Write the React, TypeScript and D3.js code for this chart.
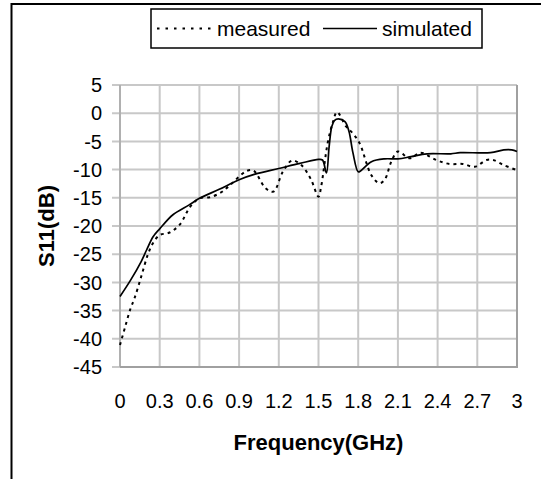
import { useEffect, useRef } from "react"
import * as d3 from "d3"

// frequency (GHz) / S11 (dB)
const simFreq = [0, 0.08, 0.16, 0.2, 0.25, 0.3, 0.4, 0.52, 0.6, 0.75, 0.9, 1.02, 1.2, 1.36, 1.5, 1.53, 1.56, 1.58, 1.6, 1.62, 1.65, 1.7, 1.73, 1.76, 1.8, 1.82, 1.9, 2.0, 2.1, 2.2, 2.32, 2.5, 2.57, 2.8, 2.9, 2.96, 3.0]
const simS11 = [-32.5, -29.6, -26.3, -24.3, -21.9, -20.5, -18.0, -16.3, -15.1, -13.5, -11.8, -10.8, -9.8, -8.9, -8.2, -8.3, -10.6, -6.0, -2.4, -1.3, -1.0, -1.5, -3.2, -7.0, -10.4, -10.2, -8.6, -8.1, -8.1, -7.7, -7.2, -7.2, -7.0, -7.0, -6.5, -6.5, -6.8]

const measFreq = [0, 0.04, 0.08, 0.11, 0.16, 0.21, 0.25, 0.3, 0.37, 0.45, 0.53, 0.6, 0.68, 0.76, 0.82, 0.96, 1.01, 1.1, 1.16, 1.23, 1.3, 1.37, 1.44, 1.5, 1.52, 1.57, 1.61, 1.64, 1.71, 1.76, 1.81, 1.9, 1.96, 2.0, 2.05, 2.1, 2.19, 2.27, 2.39, 2.49, 2.59, 2.68, 2.77, 2.82, 2.9, 3.0]
const measS11 = [-41.1, -37.8, -34.6, -32.8, -29.0, -25.1, -23.0, -21.6, -21.2, -19.8, -16.6, -15.1, -14.9, -14.1, -13.0, -10.2, -10.2, -13.3, -13.9, -10.4, -8.4, -9.2, -11.6, -14.8, -13.0, -5.2, -1.5, 0.2, -2.4, -3.6, -5.3, -11.0, -12.4, -11.8, -8.6, -6.8, -8.0, -7.0, -8.3, -9.0, -9.0, -9.5, -8.3, -8.3, -9.2, -10.1]

const xTicks = [0, 0.3, 0.6, 0.9, 1.2, 1.5, 1.8, 2.1, 2.4, 2.7, 3]
const yTicks = [5, 0, -5, -10, -15, -20, -25, -30, -35, -40, -45]

const W = 541
const H = 479
const font = "'Liberation Sans', Arial, sans-serif"

export default function App() {
  const svgRef = useRef<SVGSVGElement>(null)

  useEffect(() => {
    document.body.style.margin = "0"
    const svg = d3.select(svgRef.current)
    svg.selectAll("*").remove()

    const x = d3.scaleLinear().domain([0, 3]).range([120, 517])
    const y = d3.scaleLinear().domain([5, -45]).range([85, 367])

    svg.append("rect").attr("width", W).attr("height", H).attr("fill", "#fff")

    // outer chart border (runs off the right and bottom edges)
    svg
      .append("rect")
      .attr("x", 11.5)
      .attr("y", 4)
      .attr("width", 600)
      .attr("height", 600)
      .attr("fill", "none")
      .attr("stroke", "#000")
      .attr("stroke-width", 2)

    // grid
    const grid = svg.append("g")
    grid
      .selectAll("line.v")
      .data(xTicks)
      .enter()
      .append("line")
      .attr("x1", (d) => x(d))
      .attr("x2", (d) => x(d))
      .attr("y1", y(5))
      .attr("y2", y(-45))
      .attr("stroke", "#c8c8c8")
      .attr("stroke-width", 2)
    grid
      .selectAll("line.h")
      .data(yTicks)
      .enter()
      .append("line")
      .attr("x1", 112)
      .attr("x2", x(3))
      .attr("y1", (d) => y(d))
      .attr("y2", (d) => y(d))
      .attr("stroke", "#c8c8c8")
      .attr("stroke-width", 2)

    // axis frame
    svg
      .append("line")
      .attr("x1", x(0))
      .attr("x2", x(0))
      .attr("y1", y(5))
      .attr("y2", y(-45))
      .attr("stroke", "#b0b0b0")
      .attr("stroke-width", 2)
    svg
      .append("line")
      .attr("x1", x(0))
      .attr("x2", x(3) + 1)
      .attr("y1", y(-45))
      .attr("y2", y(-45))
      .attr("stroke", "#a0a0a0")
      .attr("stroke-width", 2)
    svg
      .append("line")
      .attr("x1", x(3))
      .attr("x2", x(3))
      .attr("y1", y(5))
      .attr("y2", y(-45))
      .attr("stroke", "#a0a0a0")
      .attr("stroke-width", 2)

    // tick labels
    svg
      .append("g")
      .selectAll("text")
      .data(yTicks)
      .enter()
      .append("text")
      .attr("x", 102)
      .attr("y", (d) => y(d))
      .attr("dy", "0.36em")
      .attr("text-anchor", "end")
      .attr("font-family", font)
      .attr("font-size", "20px")
      .text((d) => String(d))

    svg
      .append("g")
      .selectAll("text")
      .data(xTicks)
      .enter()
      .append("text")
      .attr("x", (d) => x(d))
      .attr("y", 408)
      .attr("text-anchor", "middle")
      .attr("font-family", font)
      .attr("font-size", "20px")
      .text((d) => String(d))

    // axis titles
    svg
      .append("text")
      .attr("x", (x(0) + x(3)) / 2)
      .attr("y", 450)
      .attr("text-anchor", "middle")
      .attr("font-family", font)
      .attr("font-size", "22px")
      .attr("font-weight", "bold")
      .text("Frequency(GHz)")
    svg
      .append("text")
      .attr("transform", `translate(54,${(y(5) + y(-45)) / 2}) rotate(-90)`)
      .attr("text-anchor", "middle")
      .attr("font-family", font)
      .attr("font-size", "22px")
      .attr("font-weight", "bold")
      .text("S11(dB)")

    // curves
    const line = d3
      .line<[number, number]>()
      .x((d) => x(d[0]))
      .y((d) => y(d[1]))
      .curve(d3.curveCatmullRom.alpha(0.5))

    const measured = measFreq.map((f, i) => [f, measS11[i]] as [number, number])
    const simulated = simFreq.map((f, i) => [f, simS11[i]] as [number, number])

    svg
      .append("path")
      .attr("d", line(measured))
      .attr("fill", "none")
      .attr("stroke", "#000")
      .attr("stroke-width", 2)
      .attr("stroke-dasharray", "3,4")
    svg
      .append("path")
      .attr("d", line(simulated))
      .attr("fill", "none")
      .attr("stroke", "#000")
      .attr("stroke-width", 1.7)

    // legend
    const lg = svg.append("g")
    lg.append("rect")
      .attr("x", 151)
      .attr("y", 9)
      .attr("width", 331)
      .attr("height", 39)
      .attr("fill", "#fff")
      .attr("stroke", "#000")
      .attr("stroke-width", 1.5)
    lg.append("line")
      .attr("x1", 157)
      .attr("x2", 213)
      .attr("y1", 28.5)
      .attr("y2", 28.5)
      .attr("stroke", "#000")
      .attr("stroke-width", 2)
      .attr("stroke-dasharray", "2.5,6")
    lg.append("text")
      .attr("x", 217)
      .attr("y", 36)
      .attr("font-family", font)
      .attr("font-size", "21px")
      .text("measured")
    lg.append("line")
      .attr("x1", 323)
      .attr("x2", 377)
      .attr("y1", 28.5)
      .attr("y2", 28.5)
      .attr("stroke", "#000")
      .attr("stroke-width", 1.5)
    lg.append("text")
      .attr("x", 382)
      .attr("y", 36)
      .attr("font-family", font)
      .attr("font-size", "21px")
      .text("simulated")
  }, [])

  return <svg ref={svgRef} width={W} height={H} style={{ display: "block" }} />
}
